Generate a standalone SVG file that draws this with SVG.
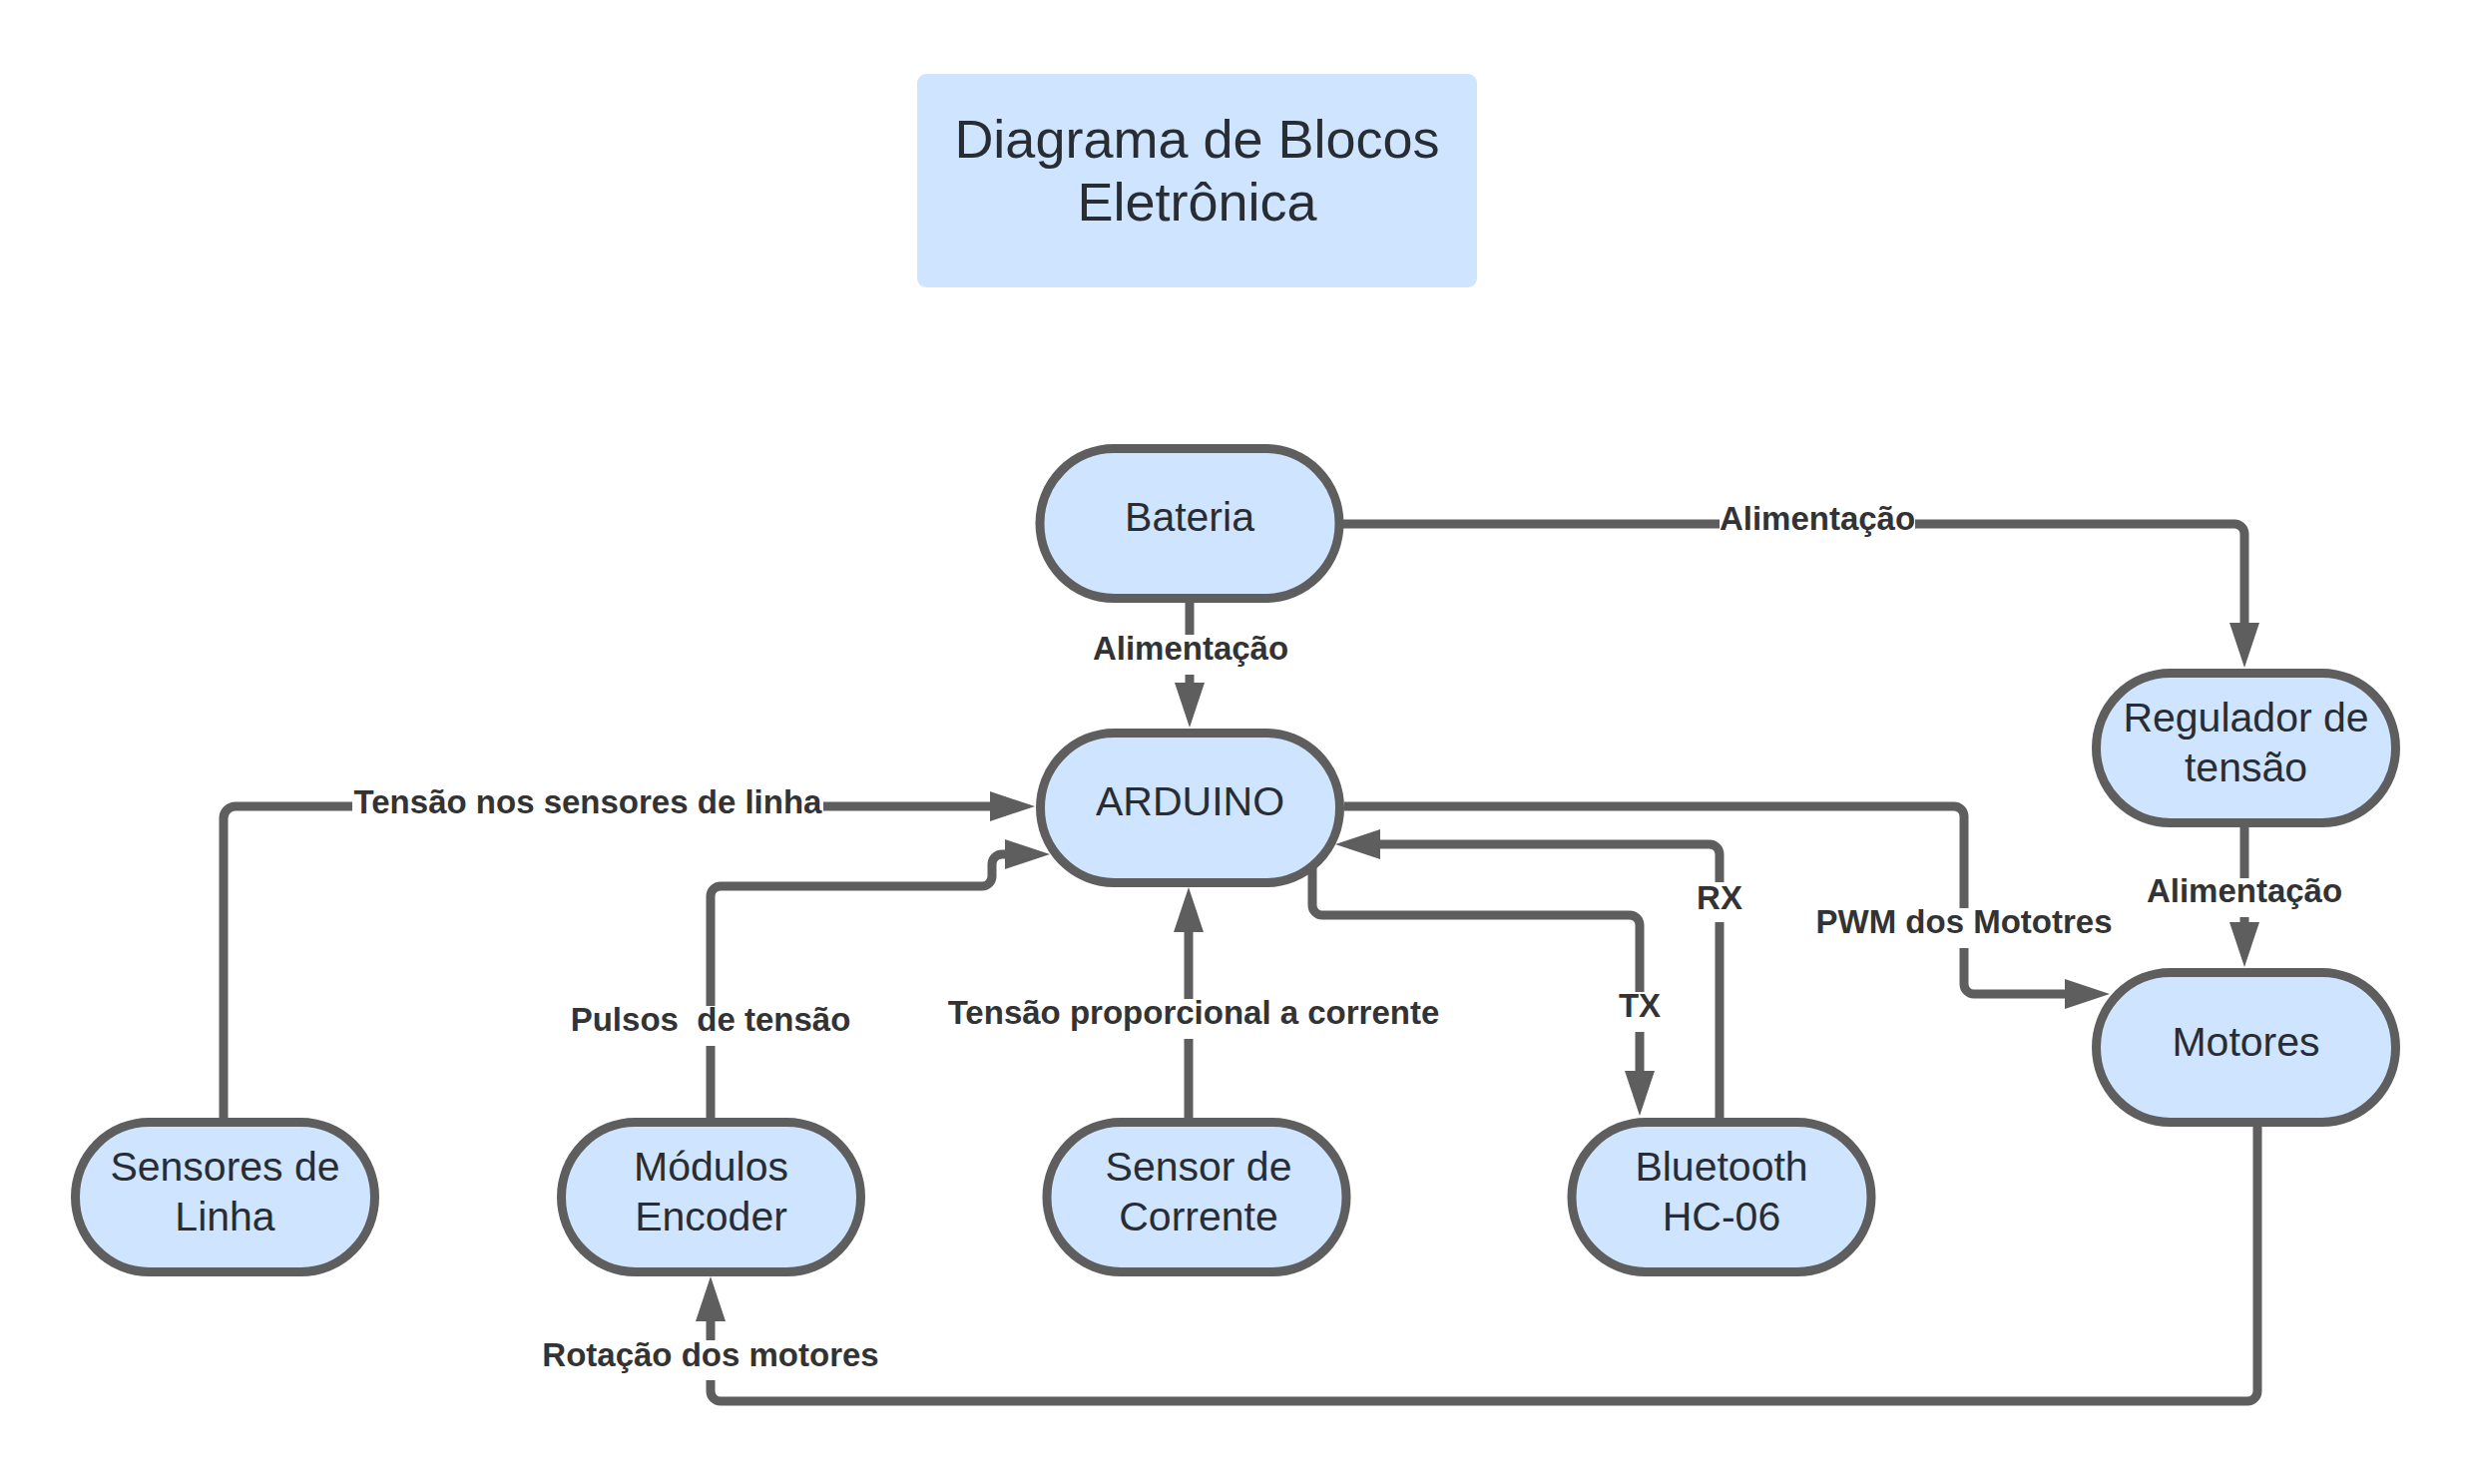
<svg xmlns="http://www.w3.org/2000/svg" width="2475" height="1487" viewBox="0 0 2475 1487">
<style>
.node rect{fill:#cfe4ff;stroke:#5e5e5e;stroke-width:9}
.ntext{font-family:"Liberation Sans",Arial,sans-serif;font-size:41px;fill:#282c33;text-anchor:middle}
.title{font-family:"Liberation Sans",Arial,sans-serif;font-size:54px;fill:#282c33;text-anchor:middle}
.conn{fill:none;stroke:#5e5e5e;stroke-width:9;marker-end:url(#ah)}
.lbl{font-family:"Liberation Sans",Arial,sans-serif;font-weight:bold;font-size:33px;fill:#333333;text-anchor:middle}
</style>
<defs>
<marker id="ah" markerUnits="userSpaceOnUse" markerWidth="45" markerHeight="30" viewBox="0 0 45 30" refX="5" refY="15" orient="auto"><path d="M0,0 L45,15 L0,30 Z" fill="#5e5e5e"/></marker>
</defs>
<rect width="2475" height="1487" fill="#ffffff"/>
<g id="title">
<rect x="919" y="74" width="561" height="214" rx="9" fill="#cfe4ff"/>
<text class="title" x="1199.5" y="158">Diagrama de Blocos</text>
<text class="title" x="1199.5" y="221">Eletrônica</text>
</g>
<g id="connectors">
<path class="conn" d="M1192,604 V636 M1192,676 V689"/>
<text class="lbl" x="1193" y="661">Alimentação</text>
<path class="conn" d="M1346,525 H1723 M1919,525 H2239 A10,10 0 0 1 2249,535 V629"/>
<text class="lbl" x="1821" y="531">Alimentação</text>
<path class="conn" d="M224,1120 V820 A12,12 0 0 1 236,808 H353 M825,808 H997"/>
<text class="lbl" x="589" y="815">Tensão nos sensores de linha</text>
<path class="conn" d="M712,1120 V1048 M712,1008 V898 A10,10 0 0 1 722,888 H984 A10,10 0 0 0 994,878 V866 A10,10 0 0 1 1004,856 H1012"/>
<text class="lbl" x="712" y="1033" xml:space="preserve">Pulsos  de tensão</text>
<path class="conn" d="M1191,1120 V1041 M1191,1001 V929"/>
<text class="lbl" x="1196" y="1026">Tensão proporcional a corrente</text>
<path class="conn" d="M1315,860 V907 A10,10 0 0 0 1325,917 H1633 A10,10 0 0 1 1643,927 V994 M1643,1034 V1078"/>
<text class="lbl" x="1643" y="1019">TX</text>
<path class="conn" d="M1723,1120 V924 M1723,884 V856 A10,10 0 0 0 1713,846 H1378"/>
<text class="lbl" x="1723" y="911">RX</text>
<path class="conn" d="M1347,808 H1958 A10,10 0 0 1 1968,818 V910 M1968,950 V986 A10,10 0 0 0 1978,996 H2074"/>
<text class="lbl" x="1968" y="935">PWM dos Mototres</text>
<path class="conn" d="M2249,828 V880 M2249,919 V929"/>
<text class="lbl" x="2249" y="904">Alimentação</text>
<path class="conn" d="M2262,1128 V1394 A10,10 0 0 1 2252,1404 H722 A10,10 0 0 1 712,1394 V1383 M712,1343 V1319"/>
<text class="lbl" x="712" y="1369">Rotação dos motores</text>
</g>
<g id="bateria" class="node">
<rect x="1042" y="449.5" width="300" height="150" rx="74" ry="75"/>
<text class="ntext" x="1192" y="532">Bateria</text>
</g>
<g id="arduino" class="node">
<rect x="1042.5" y="734.5" width="300" height="150" rx="74" ry="75"/>
<text class="ntext" x="1192.5" y="817">ARDUINO</text>
</g>
<g id="regulador" class="node">
<rect x="2100.5" y="674.5" width="300" height="150" rx="74" ry="75"/>
<text class="ntext" x="2250.5" y="733">Regulador de</text>
<text class="ntext" x="2250.5" y="783">tensão</text>
</g>
<g id="motores" class="node">
<rect x="2100.5" y="974.5" width="300" height="150" rx="74" ry="75"/>
<text class="ntext" x="2250.5" y="1058">Motores</text>
</g>
<g id="sensores" class="node">
<rect x="75.5" y="1124.5" width="300" height="150" rx="74" ry="75"/>
<text class="ntext" x="225.5" y="1183">Sensores de</text>
<text class="ntext" x="225.5" y="1233">Linha</text>
</g>
<g id="encoder" class="node">
<rect x="562.5" y="1124.5" width="300" height="150" rx="74" ry="75"/>
<text class="ntext" x="712.5" y="1183">Módulos</text>
<text class="ntext" x="712.5" y="1233">Encoder</text>
</g>
<g id="corrente" class="node">
<rect x="1049" y="1124.5" width="300" height="150" rx="74" ry="75"/>
<text class="ntext" x="1201" y="1183">Sensor de</text>
<text class="ntext" x="1201" y="1233">Corrente</text>
</g>
<g id="bluetooth" class="node">
<rect x="1575" y="1124.5" width="300" height="150" rx="74" ry="75"/>
<text class="ntext" x="1725" y="1183">Bluetooth</text>
<text class="ntext" x="1725" y="1233">HC-06</text>
</g>
</svg>
